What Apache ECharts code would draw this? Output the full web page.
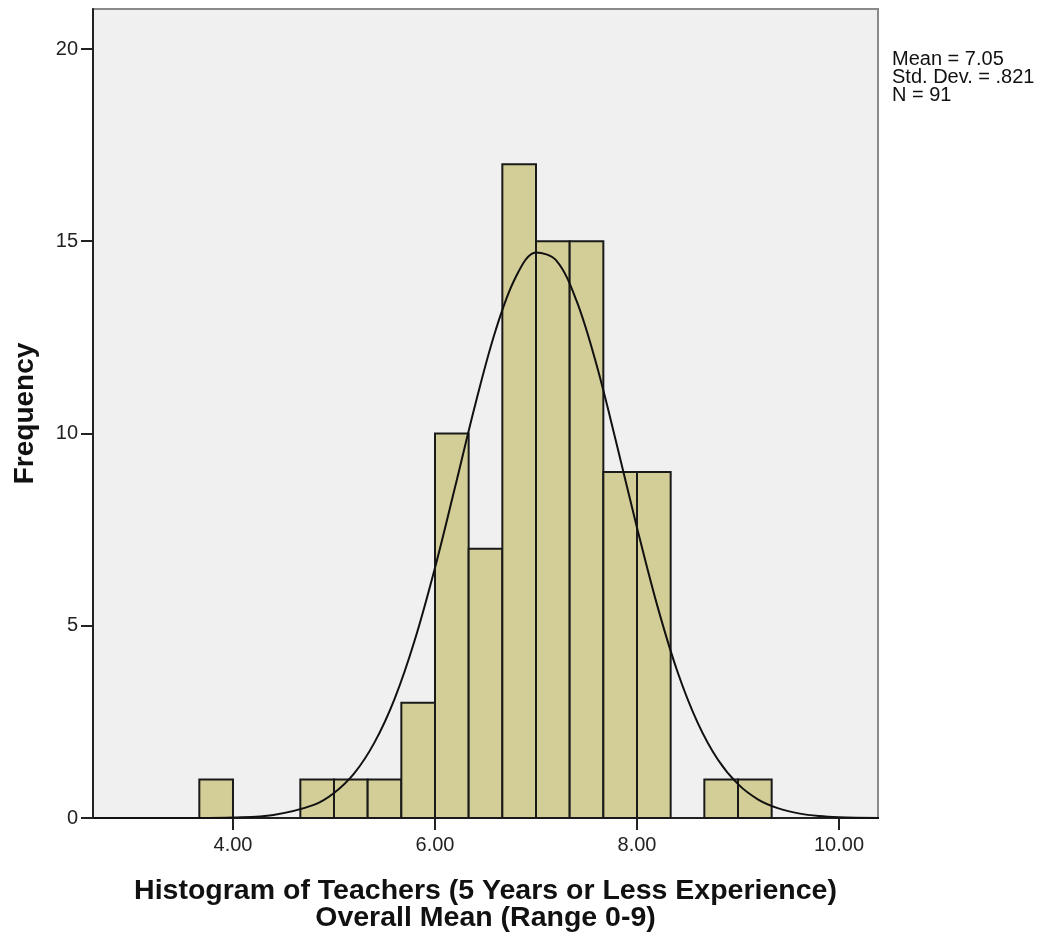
<!DOCTYPE html>
<html>
<head>
<meta charset="utf-8">
<script src="https://cdn.jsdelivr.net/npm/echarts@6/dist/echarts.min.js"></script>
<style>
html,body{margin:0;padding:0;background:#fff;}
#chart{width:1040px;height:932px;}
</style>
</head>
<body>
<div id="chart"></div>
<script>
// Histogram bins (edges) and frequencies
const binEdges = [3.6667, 4.0, 4.3333, 4.6667, 5.0, 5.3333, 5.6667, 6.0, 6.3333, 6.6667, 7.0, 7.3333, 7.6667, 8.0, 8.3333, 8.6667, 9.0, 9.3333];
const counts   = [1, 0, 0, 1, 1, 1, 3, 10, 7, 17, 15, 15, 9, 9, 0, 1, 1];

// Fitted normal curve
const curveX = [2.62, 3.0, 3.6, 4.0, 4.4, 4.8, 5.0, 5.2, 5.4, 5.6, 5.8, 6.0, 6.2, 6.4, 6.6, 6.8, 7.0, 7.2, 7.4, 7.6, 7.8, 8.0, 8.2, 8.4, 8.6, 8.8, 9.0, 9.2, 9.4, 9.6, 9.8, 10.0, 10.4];
const curveY = [0, 0, 0.002, 0.015, 0.08, 0.34, 0.65, 1.16, 1.96, 3.10, 4.63, 6.51, 8.62, 10.77, 12.68, 14.07, 14.71, 14.50, 13.46, 11.78, 9.71, 7.55, 5.53, 3.81, 2.48, 1.52, 0.88, 0.48, 0.25, 0.12, 0.05, 0.02, 0];

const xTicks = [4, 6, 8, 10];
const yTicks = [0, 5, 10, 15, 20];
const statsText = ['Mean = 7.05', 'Std. Dev. = .821', 'N = 91'];
const xTitle = ['Histogram of Teachers (5 Years or Less Experience)', 'Overall Mean (Range 0-9)'];
const yTitle = 'Frequency';

const barData = counts.map((c, i) => [binEdges[i], binEdges[i + 1], c]).filter(d => d[2] > 0);
const lineData = curveX.map((x, i) => [x, curveY[i]]);

const FONT = '"Liberation Sans", Arial, sans-serif';
const chart = echarts.init(document.getElementById('chart'), null, {renderer: 'canvas'});
chart.setOption({
  animation: false,
  backgroundColor: '#ffffff',
  grid: {left: 93, right: 162, top: 9, bottom: 114, containLabel: false, outerBoundsMode: 'none',
         show: true, backgroundColor: '#f0f0f0', borderColor: '#8a8a8a', borderWidth: 2},
  xAxis: {
    type: 'value', min: 2.614, max: 10.386,
    axisLine: {show: true, onZero: false, lineStyle: {color: '#222', width: 2}},
    axisTick: {show: true, length: 12, customValues: xTicks, lineStyle: {color: '#222', width: 2}},
    axisLabel: {customValues: xTicks, formatter: v => v.toFixed(2), color: '#222', fontSize: 20, fontFamily: FONT, margin: 17},
    splitLine: {show: false},
    name: xTitle.join('\n'), nameLocation: 'middle', nameGap: 60,
    nameTextStyle: {fontSize: 28.5, fontWeight: 'bold', color: '#111', fontFamily: FONT, lineHeight: 27}
  },
  yAxis: {
    type: 'value', min: 0, max: 21.04,
    axisLine: {show: true, lineStyle: {color: '#222', width: 2}},
    axisTick: {show: true, length: 12, customValues: yTicks, lineStyle: {color: '#222', width: 2}},
    axisLabel: {customValues: yTicks, color: '#222', fontSize: 20, fontFamily: FONT, margin: 15},
    splitLine: {show: false},
    name: yTitle, nameLocation: 'middle', nameGap: 54, nameRotate: 90,
    nameTextStyle: {fontSize: 28, fontWeight: 'bold', color: '#111', fontFamily: FONT}
  },
  series: [
    {
      type: 'custom',
      data: barData,
      encode: {x: [0, 1], y: 2},
      renderItem: function (params, api) {
        const p0 = api.coord([api.value(0), 0]);
        const p1 = api.coord([api.value(1), api.value(2)]);
        return {
          type: 'rect',
          shape: {x: p0[0], y: p1[1], width: p1[0] - p0[0], height: p0[1] - p1[1]},
          style: {fill: '#d3ce97', stroke: '#1a1a1a', lineWidth: 2}
        };
      },
      z: 2
    },
    {
      type: 'line', data: lineData, smooth: 0.35, showSymbol: false,
      lineStyle: {color: '#111', width: 2}, z: 3, silent: true
    }
  ],
  graphic: [{
    type: 'text', left: 892, top: 49,
    style: {text: statsText.join('\n'), fontSize: 20, lineHeight: 18, fill: '#111', fontFamily: FONT}
  }]
});
</script>
</body>
</html>
